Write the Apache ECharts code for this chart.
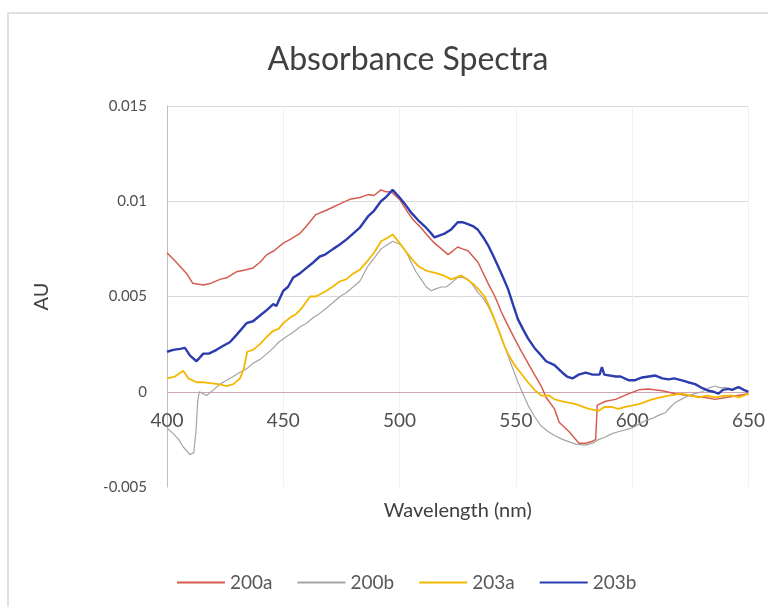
<!DOCTYPE html>
<html>
<head>
<meta charset="utf-8">
<title>Absorbance Spectra</title>
<script src="https://cdn.jsdelivr.net/npm/echarts@6/dist/echarts.min.js"></script>
<style>
  html, body { margin: 0; padding: 0; background: #ffffff; }
  #main { width: 768px; height: 607px; }
</style>
</head>
<body>
<div id="main"></div>
<script>
// 数据 (wavelength nm, AU)
var seriesNames = ['200a', '200b', '203a', '203b'];
var xTicks = [400, 450, 500, 550, 600, 650];
var yTicks = [-0.005, 0, 0.005, 0.01, 0.015];

var s200a = [
    [400, 0.0073], [404, 0.0068], [408.5, 0.0062], [411, 0.0057], [415.6, 0.0056], [419, 0.0057],
    [422.8, 0.0059], [426, 0.0060], [430, 0.0063], [434, 0.0064], [437, 0.0065], [440, 0.0068],
    [443, 0.0072], [446, 0.0074], [450, 0.0078], [453, 0.0080], [457, 0.0083], [460, 0.0087],
    [464, 0.0093], [468, 0.0095], [471.5, 0.0097], [475, 0.0099], [478.6, 0.0101], [483, 0.0102],
    [486.4, 0.01035], [489, 0.0103], [492, 0.0106], [494, 0.0105], [496.4, 0.0105], [500, 0.0101],
    [503.6, 0.0094], [506, 0.0090], [509.3, 0.0086], [512, 0.0082], [515, 0.0078], [518, 0.0075],
    [520.8, 0.0072], [523, 0.0074], [525, 0.0076], [527, 0.0075], [529.4, 0.0074], [533.7, 0.0068],
    [538, 0.0057], [541, 0.0050], [543.7, 0.0042], [546.5, 0.0035], [549.4, 0.0028], [552, 0.0022],
    [555.2, 0.0015], [558, 0.0009], [560.9, 0.0003], [563, -0.0003], [566.6, -0.0009], [568.6, -0.0016],
    [572.9, -0.0021], [577.1, -0.0027], [580, -0.0027], [582.9, -0.0026], [584.3, -0.0025], [585, -0.0007],
    [588.6, -0.0005], [592.9, -0.0004], [598.6, -0.0001], [602.9, 0.0001], [607, 0.00015], [612.9, 0.00005],
    [618.6, -0.0001], [624.3, -0.0002], [631.4, -0.0003], [635.7, -0.0004], [642.9, -0.00025], [650, -0.0001]
];

var s200b = [
    [400, -0.0019], [402.7, -0.0022], [405, -0.0025], [407, -0.0029], [409.9, -0.0033], [411.5, -0.0032],
    [412.5, -0.0020], [413.2, -0.0005], [413.9, 0.0000], [415.5, -0.0001], [417, -0.0002], [419, 0.0000],
    [420, 0.0001], [422.8, 0.0004], [425.6, 0.0006], [428.5, 0.0008], [431, 0.0010], [434.2, 0.0012],
    [437, 0.0015], [440, 0.0017], [443, 0.0020], [445.7, 0.0023], [448, 0.0026], [451.4, 0.0029],
    [454, 0.0031], [457.1, 0.0034], [460, 0.0036], [462.9, 0.0039], [465.5, 0.0041], [468.6, 0.0044],
    [471.5, 0.0047], [474.4, 0.0050], [477, 0.0052], [480, 0.0055], [482.9, 0.0058], [486.4, 0.0066],
    [489, 0.0070], [492.1, 0.0075], [494.5, 0.0077], [497.1, 0.0079], [500.7, 0.0077], [503, 0.0073],
    [505, 0.0068], [507, 0.0063], [509.3, 0.0059], [511.5, 0.0055], [513.6, 0.0053], [515.5, 0.0054],
    [517.9, 0.0055], [520, 0.0055], [522.2, 0.0057], [525, 0.0060], [527, 0.0060], [529.4, 0.0059],
    [531.5, 0.0056], [533.7, 0.0052], [536, 0.0049], [538, 0.0045], [540, 0.0040], [542.3, 0.0033],
    [544.5, 0.0026], [546.6, 0.0019], [549, 0.0011], [550.9, 0.0005], [553, -0.0001], [555.2, -0.0007],
    [558, -0.0013], [560.9, -0.0018], [564, -0.0021], [566.6, -0.0023], [570, -0.0025], [575.7, -0.00275],
    [580, -0.0028], [583, -0.0027], [585.7, -0.0025], [588, -0.0024], [591.4, -0.0022], [594, -0.0021],
    [597.1, -0.0020], [600, -0.0019], [602.9, -0.0017], [606, -0.0015], [608.6, -0.0014], [612, -0.0012],
    [614.3, -0.0011], [616.5, -0.0008], [618.6, -0.00056], [621, -0.0004], [624.3, -0.0002], [627, -0.0001],
    [630, 0], [633, 0.0002], [635.7, 0.0003], [638, 0.0002], [640, 0.00023], [643, 0.0001],
    [645.7, 0.00028], [648, 0.0001], [650, -0.0001]
];

var s203a = [
    [400, 0.0007], [403.4, 0.0008], [407, 0.0011], [409.2, 0.0007], [412.7, 0.0005], [415, 0.0005],
    [418.5, 0.00045], [422, 0.0004], [425.6, 0.0003], [428.5, 0.0004], [431.4, 0.0007], [433, 0.0012],
    [434.5, 0.0021], [437, 0.0022], [440, 0.0025], [443, 0.0029], [445.7, 0.0032], [448, 0.0033],
    [450, 0.0036], [453, 0.0039], [455.7, 0.0041], [458, 0.0044], [461.5, 0.0050], [464, 0.0050],
    [468.6, 0.0053], [471, 0.0055], [474.4, 0.0058], [477, 0.0059], [480, 0.0062], [482.9, 0.0064],
    [486.4, 0.0069], [489, 0.0073], [492.1, 0.0079], [495, 0.0081], [497.1, 0.00825], [500, 0.0078],
    [502.5, 0.0074], [505, 0.0070], [508, 0.0066], [510.7, 0.0064], [513, 0.0063], [516.5, 0.0062],
    [519, 0.0061], [522.2, 0.0059], [524.5, 0.0060], [526.5, 0.0061], [529, 0.0059], [532.2, 0.0056],
    [534.5, 0.0053], [536.5, 0.0050], [538.5, 0.0045], [540.8, 0.0038], [543, 0.0031], [545.1, 0.0024],
    [547, 0.0019], [549.4, 0.0014], [552, 0.0010], [555.2, 0.0005], [558, 0.0001], [560.9, -0.0002],
    [564.3, -0.0002], [566.6, -0.0004], [570, -0.0005], [575.7, -0.00065], [581.4, -0.0009], [585.7, -0.0010],
    [588, -0.0008], [591.4, -0.0008], [594, -0.0009], [597.1, -0.0008], [602.9, -0.00065], [608.6, -0.0004],
    [612, -0.0003], [615.7, -0.0002], [621.4, -0.0001], [625, -0.0002], [628.6, -0.0003], [632, -0.0002],
    [635.7, -0.0003], [640, -0.0002], [642.9, -0.0002], [646, -0.0003], [650, -0.0001]
];

var s203b = [
    [400, 0.0021], [402.7, 0.0022], [405.6, 0.00225], [407.7, 0.0023], [409.9, 0.0019], [412.7, 0.0016],
    [415.6, 0.0020], [418, 0.0020], [421.3, 0.0022], [424, 0.0024], [427, 0.0026], [430, 0.0030],
    [434.2, 0.0036], [437, 0.0037], [440, 0.0040], [443, 0.0043], [445.7, 0.0046], [447, 0.0045],
    [450, 0.0053], [452, 0.0055], [454.3, 0.0060], [457, 0.0062], [460, 0.0065], [463, 0.0068],
    [465.7, 0.0071], [468, 0.0072], [471.5, 0.0075], [474, 0.0077], [477.2, 0.0080], [480, 0.0083],
    [482.8, 0.0086], [486.4, 0.0092], [489, 0.0095], [492, 0.0100], [494, 0.0102], [497, 0.0106],
    [500, 0.0102], [502, 0.0099], [505, 0.0094], [508, 0.0090], [510.7, 0.0087], [513, 0.0084],
    [515, 0.0081], [517, 0.0082], [519.3, 0.0083], [522, 0.0085], [525, 0.0089], [527, 0.0089],
    [529.4, 0.0088], [531.5, 0.0087], [533.7, 0.0085], [536, 0.0081], [538, 0.0077], [540, 0.0072],
    [542.3, 0.0066], [544.5, 0.0060], [546.6, 0.0054], [549, 0.0045], [550.9, 0.0038], [553, 0.0033],
    [555.2, 0.0028], [558, 0.0023], [560.9, 0.0019], [563, 0.0016], [566.6, 0.0014], [570, 0.0010],
    [572, 0.0008], [574.3, 0.0007], [577, 0.0009], [580, 0.0010], [583, 0.0009], [586, 0.0009],
    [587, 0.0013], [588, 0.0009], [592.9, 0.0008], [595, 0.0008], [598.6, 0.0006], [601, 0.0006],
    [604.3, 0.00075], [610, 0.00085], [613, 0.0007], [615.7, 0.00065], [618, 0.0007], [621.4, 0.0006],
    [624, 0.0005], [627.1, 0.0004], [630, 0.0002], [632.9, 0.00005], [635, 0], [637.1, -0.0001],
    [639, 0.0001], [641.4, 0.00015], [643, 0.0001], [645.7, 0.00025], [648, 0.0001], [650, 0]
];

var colors = ['#d45d50', '#a5a5a5', '#f4b800', '#2c3cae'];
var widths = [1.5, 1.2, 1.8, 2.4];

show();

function show() {
    var myChart = echarts.init(document.getElementById('main'));
    var font = 'Lato, "Noto Sans", sans-serif';
    var allData = [s200a, s200b, s203a, s203b];

    var series = [];
    for (var i = 0; i < seriesNames.length; i++) {
        series.push({
            name: seriesNames[i],
            type: 'line',
            data: allData[i],
            showSymbol: false,
            symbol: 'none',
            lineStyle: { color: colors[i], width: widths[i] },
            itemStyle: { color: colors[i] },
            z: 3 + i
        });
    }
    // 零线 (horizontal axis crossing at 0)
    series[0].markLine = {
        silent: true,
        symbol: 'none',
        z: 1,
        label: { show: false },
        lineStyle: { color: '#cfa6b4', type: 'solid', width: 1.2 },
        data: [{ yAxis: 0 }]
    };

    var option = {
        backgroundColor: '#ffffff',
        animation: false,
        // chart area frame
        graphic: [{
            type: 'rect',
            shape: { x: 8, y: 13, width: 800, height: 640 },
            style: { fill: 'none', stroke: '#d6d6d6', lineWidth: 1.5 },
            silent: true,
            z: -1
        }],
        title: {
            text: 'Absorbance Spectra',
            left: 403,
            top: 39,
            textAlign: 'center',
            textStyle: { fontFamily: font, fontSize: 32, fontWeight: 'normal', color: '#404040' }
        },
        legend: {
            data: seriesNames,
            left: 172,
            top: 568,
            icon: 'rect',
            itemWidth: 48,
            itemHeight: 2,
            itemGap: 25,
            textStyle: { fontFamily: font, fontSize: 19, color: '#595959' }
        },
        grid: { left: 167, right: 18, top: 106, bottom: 120 },
        xAxis: {
            type: 'value',
            min: xTicks[0],
            max: xTicks[xTicks.length - 1],
            interval: 50,
            name: 'Wavelength (nm)',
            nameLocation: 'middle',
            nameGap: 14,
            nameMoveOverlap: false,
            nameTextStyle: { fontFamily: font, fontSize: 20, color: '#404040' },
            axisLine: { show: false, onZero: false },
            axisTick: { show: false },
            axisLabel: { margin: -76, fontFamily: font, fontSize: 19, color: '#505050' },
            splitLine: { show: true, lineStyle: { color: '#f0f0f0', width: 1 } }
        },
        yAxis: {
            type: 'value',
            min: yTicks[0],
            max: yTicks[yTicks.length - 1],
            interval: 0.005,
            name: 'AU',
            nameLocation: 'middle',
            nameRotate: 90,
            nameGap: 115,
            nameMoveOverlap: false,
            nameTextStyle: { fontFamily: font, fontSize: 20, color: '#404040' },
            axisLine: { show: true, lineStyle: { color: '#bfbfbf', width: 1 } },
            axisTick: { show: false },
            axisLabel: { margin: 20, fontFamily: font, fontSize: 15, color: '#505050' },
            splitLine: { show: true, showMinLine: false, lineStyle: { color: '#d9d9d9', width: 1 } }
        },
        series: series
    };

    myChart.setOption(option);
}
</script>
</body>
</html>
